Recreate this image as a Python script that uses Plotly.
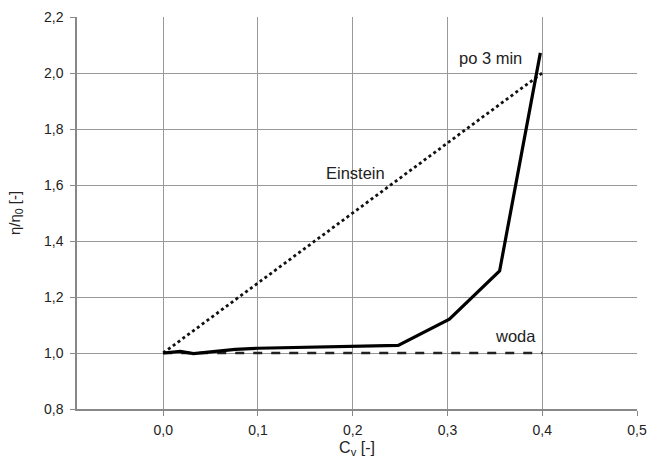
import plotly.graph_objects as go

# data
cv_po3 = [0.0, 0.018, 0.032, 0.076, 0.1, 0.2, 0.248, 0.302, 0.355, 0.398]
eta_po3 = [1.0, 1.006, 0.998, 1.013, 1.017, 1.024, 1.027, 1.121, 1.293, 2.072]
cv_einstein = [0.0, 0.4]
eta_einstein = [1.0, 2.0]
cv_woda = [0.0, 0.4]
eta_woda = [1.0, 1.0]
x_ticks = [0.0, 0.1, 0.2, 0.3, 0.4, 0.5]
y_ticks = [0.8, 1.0, 1.2, 1.4, 1.6, 1.8, 2.0, 2.2]

fam = "Liberation Sans, Arial, sans-serif"

fig = go.Figure()
fig.add_trace(go.Scatter(x=cv_woda, y=eta_woda, mode="lines",
                         line=dict(color="#222", width=2.5, dash="dash"), name="woda"))
fig.add_trace(go.Scatter(x=cv_einstein, y=eta_einstein, mode="lines",
                         line=dict(color="#111", width=2.8, dash="dot"), name="Einstein"))
fig.add_trace(go.Scatter(x=cv_po3, y=eta_po3, mode="lines",
                         line=dict(color="black", width=3.2), name="po 3 min"))

afont = dict(size=16.5, family=fam, color="#222")
fig.add_annotation(x=0.345, y=2.054, text="po 3 min", showarrow=False, font=afont)
fig.add_annotation(x=0.203, y=1.643, text="Einstein", showarrow=False, font=afont)
fig.add_annotation(x=0.372, y=1.061, text="woda", showarrow=False, font=afont)

fig.update_layout(
    width=649, height=463,
    margin=dict(l=77, r=12, t=17, b=54),
    paper_bgcolor="white", plot_bgcolor="white",
    showlegend=False,
    separators=",.",
    font=dict(family=fam, size=14, color="#222"),
)
fig.update_xaxes(
    range=[-0.091, 0.5], tickvals=x_ticks, tickformat=".1f",
    showgrid=True, gridcolor="#999", gridwidth=1,
    showline=True, linecolor="#888", linewidth=1.5, mirror=False,
    ticks="outside", ticklen=5, tickcolor="#888",
    tickfont=dict(size=14), ticklabelstandoff=2,
    zeroline=False, automargin=False,
    title=dict(text="C<sub>v</sub> [-]", font=dict(size=16), standoff=5),
)
fig.update_yaxes(
    range=[0.8, 2.2], tickvals=y_ticks, tickformat=".1f",
    showgrid=True, gridcolor="#999", gridwidth=1,
    showline=True, linecolor="#888", linewidth=1.5,
    ticks="outside", ticklen=5, tickcolor="#888",
    tickfont=dict(size=14), ticklabelstandoff=4,
    zeroline=False, automargin=False,
    title=dict(text="η/η<sub>0</sub> [-]", font=dict(size=15), standoff=20),
)
fig.write_html("out.html")
